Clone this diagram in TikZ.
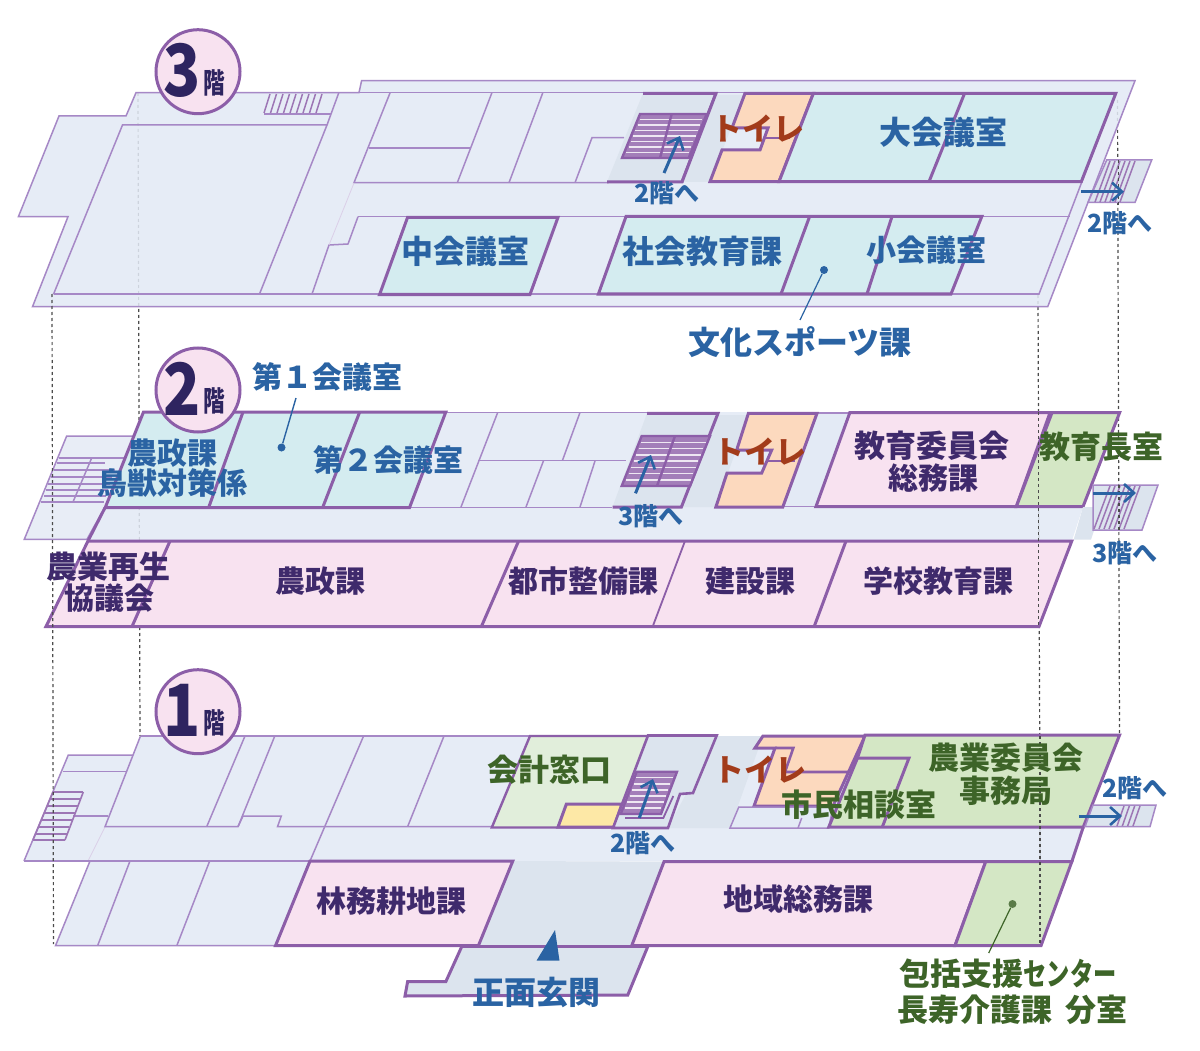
\documentclass[tikz,border=0pt]{standalone}
\usepackage{fontspec}
\usepackage{graphicx}
\usetikzlibrary{arrows.meta}
\newfontfamily\jp{Noto Sans CJK JP}
\newfontfamily\jpheavy{Noto Sans CJK JP Black}
\definecolor{floorc}{HTML}{E3EAF5}
\definecolor{linec}{HTML}{A688C6}
\definecolor{wallc}{HTML}{8C5EA8}
\definecolor{cyanc}{HTML}{D4ECF0}
\definecolor{pinkc}{HTML}{F8E2F0}
\definecolor{greenc}{HTML}{D4E7C5}
\definecolor{paleg}{HTML}{E1EEDB}
\definecolor{peachc}{HTML}{FCD9BE}
\definecolor{hallc}{HTML}{DCE4EE}
\definecolor{yellowc}{HTML}{FDE8A6}
\definecolor{bluet}{HTML}{2A63A3}
\definecolor{purplet}{HTML}{3F2A6C}
\definecolor{greent}{HTML}{3D6428}
\definecolor{redt}{HTML}{A23B1A}
\definecolor{navyt}{HTML}{2E2460}
\tikzset{
 floorp/.style={fill=floorc,draw=linec,line width=1.5pt,line join=miter},
 thinl/.style={draw=linec,line width=1.5pt},
 room/.style={draw=wallc,line width=3pt,line join=miter},
 wall/.style={draw=wallc,line width=3pt},
 dashl/.style={draw=black!70,line width=1.2pt,dash pattern=on 3pt off 3pt},
 lbl/.style={inner sep=0pt,align=center},
 arrowb/.style={draw=bluet,line width=3pt,-{Straight Barb[length=10pt,width=18pt,line width=2.6pt]}},
 badge/.style={circle,draw=wallc,line width=3pt,fill=pinkc,minimum size=84pt,inner sep=0pt},
}
\newcommand\fz[1]{\jp\bfseries\fontsize{#1}{#1}\selectfont}
\newcommand\fh[1]{\jpheavy\fontsize{#1}{#1}\selectfont}
% name, x, y, size, colour, text
\newcommand\tlabel[6]{\node[lbl,text=#5,font=\fz{#4}] (#1) at (#2,#3) {#6};}
% purple striped stair: xTL xTR yT yB slant n
\newcommand\stairs[6]{%
 \fill[wallc!80!white] (#1,#3) -- (#2,#3) -- ({#2-#5},#4) -- ({#1-#5},#4) -- cycle;
 \foreach \ii in {1,...,#6}{%
  \pgfmathsetmacro\yy{#3+(#4-#3)*\ii/(#6+1)}
  \pgfmathsetmacro\xa{#1-#5*\ii/(#6+1)+2}
  \pgfmathsetmacro\xb{#2-#5*\ii/(#6+1)-2}
  \draw[white!85!wallc,line width=1.5pt] (\xa,\yy) -- (\xb,\yy);}%
 \draw[wall,line width=2.4pt] (#1,#3) -- (#2,#3) -- ({#2-#5},#4) -- ({#1-#5},#4) -- cycle;}
% slanted hatch
\newcommand\hatch[6]{%
 \foreach \ii in {0,...,#6}{%
  \pgfmathsetmacro\xa{#1+(#2-#1)*\ii/#6}
  \pgfmathsetmacro\xb{\xa-#5}
  \draw[draw=wallc!85!white,line width=1.5pt] (\xa,#3) -- (\xb,#4);}}
\newcommand\floorbadge[4]{%
 \node[badge] (#1) at (#2,#3) {};
 \node[inner sep=0pt,text=navyt,font=\fh{72}] (#1n) at (#2-16,#3-1) {\scalebox{.85}[1]{#4}};
 \node[inner sep=0pt,text=navyt,font=\fz{27}] (#1k) at (#2+16,#3+11) {\scalebox{.8}[1.05]{階}};}
\begin{document}
\begin{tikzpicture}[x=1pt,y=-1pt]
\useasboundingbox (0,0) rectangle (1200,1051);
\fill[white] (0,0) rectangle (1200,1051);
%% vertical guides behind floors
\coordinate (gA3) at (52,294); \coordinate (gA1) at (53.5,944);
\coordinate (gB3) at (138,93); \coordinate (gB1) at (140,736);
\coordinate (gC3) at (1038,295); \coordinate (gC1) at (1040.5,945);
\coordinate (gD3) at (1117.5,100); \coordinate (gD1) at (1119.5,734);
\draw[dashl] (gB3) -- (gB1);
\draw[dashl] (gC3) -- (gC1);
\draw[dashl] (gD3) -- (gD1);

%%%%%%%% FLOOR 3
\begin{scope}[fill opacity=.86]
\path[floorp] (361.6,80.7) -- (1135,80.7) -- (1047.7,306.7) -- (32.5,306.7) -- (68,216.7) -- (18.4,216.7) -- (59,116) -- (126,116) -- (136,92.7) -- (359,92.7) -- cycle;
\end{scope}
\draw[thinl] (136,92.7) -- (1115.8,92.7);
\draw[thinl] (53.6,294) -- (1039,294) -- (1115.8,93);
\draw[thinl] (53.6,294) -- (122.5,125) -- (327,125) -- (259.5,294);
\draw[thinl] (327,125) -- (338.7,93);
\draw[thinl] (264,114) -- (331,114);
\hatch{270}{322}{94}{113}{6}{8}
\draw[thinl] (390,93) -- (354,182.7) -- (608.7,182.7);
\draw[thinl] (369,148) -- (470,148);
\draw[thinl] (491.8,93) -- (457.3,182.7);
\draw[thinl] (542.7,93) -- (509,182.7);
\draw[thinl] (575,182.7) -- (592,137.7) -- (624,137.7);
\draw[thinl] (358,216.7) -- (1070,216.7);
\draw[thinl] (358,216.7) -- (348,244) -- (329,245) -- (312,294);
\draw[draw=linec!40,line width=.8pt] (354,183) -- (329,245);
% stair 3
\path[room,fill=hallc] (643,93.3) -- (716,93.3) -- (682,182) -- (607,182);
\stairs{640}{706.7}{114}{158}{18}{7}
\draw[wall,line width=2.4pt] (671.7,114) -- (660,158);
\fill[hallc] (716,95) -- (744,95) -- (710,182) -- (682,182) -- cycle;
\draw[room] (716,93.3) -- (682,182);
% toilet 3
\path[room,fill=peachc] (745,93.3) -- (813.4,93.3) -- (779,181.7) -- (710,181.7) -- (722,150) -- (760,150) -- (768,128) -- (732,128) -- cycle;
\draw[wall,line width=2.4pt] (765,138) -- (790,138);
% large hall
\path[room,fill=cyanc] (813.4,93.3) -- (1115.8,93.3) -- (1081.3,181.7) -- (779,181.7) -- cycle;
\draw[wall] (964.6,93.3) -- (929,181.7);
% right stair
\path[thinl,fill=hallc] (1106.7,160) -- (1151.7,160) -- (1135,202.5) -- (1088,202.5) -- cycle;
\hatch{1110}{1135}{161}{202}{15}{5}
% lower rooms
\path[room,fill=cyanc] (407.6,217.3) -- (558,217.3) -- (530,294.5) -- (379.6,294.5) -- cycle;
\path[room,fill=cyanc] (626,216.5) -- (981.8,216.5) -- (951,294) -- (598.4,294) -- cycle;
\draw[wall] (809.6,216.5) -- (781,294);
\draw[wall] (892,216.5) -- (867,294);

%%%%%%%% FLOOR 2
\begin{scope}[fill opacity=.82]
\path[floorp] (66.7,436) -- (140,436) -- (105,507) -- (87,539.3) -- (24.3,539.3) -- cycle;
\end{scope}
\foreach \yy/\xl/\xr in {458/59/124,463/57/105,470/54/115,477/51/112,484/48/110,490/46/108,496/44/106,502/41/104}{\draw[thinl] (\xl,\yy) -- (\xr,\yy);}
\draw[thinl] (91.7,458) -- (73,502);
\begin{scope}[fill opacity=.86]
\path[floorp,draw=none] (143.5,412) -- (1119.6,412) -- (1083,507) -- (1071.8,541) -- (88,541) -- (105,507) -- cycle;
\end{scope}
\draw[thinl] (445,412.7) -- (650,412.7);
\draw[thinl] (497.5,413) -- (461,507);
\draw[thinl] (478,460.7) -- (626,460.7);
\draw[thinl] (579.8,413) -- (562.6,460);
\draw[thinl] (543.4,461) -- (526,507);
\draw[thinl] (595,461) -- (580,507);
\draw[thinl] (409,507.3) -- (612,507.3);
\draw[wall] (105,507.7) -- (88,541);
% stair 2
\fill[hallc] (716,415) -- (748.4,415) -- (716,507) -- (681.4,507) -- cycle;
\path[room,fill=hallc] (647,413.3) -- (718,413.3) -- (681.4,507) -- (612.5,507);
\stairs{641.7}{710}{436}{486}{20}{7}
\draw[wall,line width=2.4pt] (675,436) -- (657,486);
% toilet 2
\fill[floorc] (817,414) -- (849.8,414) -- (816,506) -- (782.8,506) -- cycle;
\draw[thinl] (817,413) -- (849.8,413);
\draw[thinl] (782.8,506.7) -- (816,506.7);
\path[room,fill=peachc] (748.4,413.3) -- (817,413.3) -- (782.8,507) -- (715.9,507) -- (727,473) -- (761.7,473) -- (771.7,450) -- (736.7,450) -- cycle;
\draw[wall,line width=2.4pt] (768,461) -- (795,461);
% rooms upper
\path[room,fill=pinkc] (849.8,412.7) -- (1050,412.7) -- (1016.3,506.5) -- (816,506.5) -- cycle;
\path[room,fill=greenc] (1052,412.7) -- (1119.6,412.7) -- (1083,506.7) -- (1016.3,506.7) -- cycle;
\path[room,fill=cyanc] (143.5,412) -- (445.8,412) -- (409.5,507.7) -- (105.2,507.7) -- cycle;
\draw[wall] (243,412) -- (208.6,507.7);
\draw[wall] (359.7,412) -- (322.6,507.7);
% right stair 2
\path[fill=hallc] (1083,507) -- (1102,507) -- (1091,539.5) -- (1073.7,539.5) -- cycle;
\path[thinl,fill=hallc] (1093,485) -- (1158,485) -- (1142,530) -- (1093,530) -- cycle;
\hatch{1110}{1140}{486}{529}{16}{6}
% lower band
\path[room,fill=pinkc] (88,541) -- (1071.8,541) -- (1039,626.5) -- (46,626.5) -- cycle;
\draw[wall] (170,541) -- (132,626.5);
\draw[wall] (518.6,541) -- (481.4,626.5);
\draw[wall,line width=1.8pt] (685,541) -- (652.7,626.5);
\draw[wall] (846,541) -- (814.2,626.5);

%%%%%%%% FLOOR 1
\begin{scope}[fill opacity=.86]
\path[fill=floorc] (68.3,755) -- (133,755) -- (140.5,736) -- (1119.6,736) -- (1083.3,827) -- (1071.8,861.7) -- (24,861) -- cycle;
\path[floorp] (90,861) -- (310,861) -- (275.5,945.7) -- (55.5,945.7) -- cycle;
\end{scope}
\draw[thinl] (24,861) -- (68.3,755) -- (133,755);
\draw[thinl] (63,771.7) -- (126.7,771.7);
\draw[thinl] (73,816) -- (108,816);
\draw[draw=linec!40,line width=.8pt] (105,827) -- (88,861);
\foreach \yy/\xl/\xr in {792/53/83.3,799/50.2/80.5,806/47.4/77.7,813/44.6/74.9,820/41.8/72.1,827/39/69.3,834/36.2/66.5,840/33/65}{\draw[wall,line width=1.6pt,draw=wallc!85!white] (\xl,\yy) -- (\xr,\yy);}
\draw[wall,line width=1.6pt,draw=wallc!85!white] (53,792) -- (33,840);
\draw[wall,line width=1.6pt,draw=wallc!85!white] (83.3,792) -- (65,840);
\draw[thinl] (140.5,736) -- (530,736);
\draw[thinl] (140.5,736) -- (105,826.7) -- (238,826.7) -- (243,816) -- (281.3,816) -- (277.5,826.7) -- (492,826.7);
\draw[thinl] (245,736) -- (206.7,826.7);
\draw[thinl] (274.8,736) -- (238,826.7);
\draw[thinl] (363.6,736) -- (310,861);
\draw[thinl] (444,736) -- (407.6,826.7);
\draw[thinl] (24,861) -- (310,861);
\draw[thinl] (130,861) -- (97.6,945.7);
\draw[thinl] (209.7,861) -- (176.8,945.7);
% hall + entrance
\path[room,fill=hallc] (462,946) -- (445.8,981.7) -- (407.6,981.7) -- (405,996) -- (627.8,995) -- (648,946);
\fill[hallc] (512.8,861) -- (664,861.7) -- (631.7,946) -- (478.4,946) -- cycle;
\draw[wall] (462,946) -- (648,946);
\fill[bluet] (555,930) -- (536.5,960.7) -- (559.5,960.7) -- cycle;
\path[room,fill=pinkc] (310,861) -- (512.8,861) -- (478.4,945.7) -- (275.5,945.7) -- cycle;
\path[room,fill=pinkc] (664,861.7) -- (985.7,861.7) -- (955,945.7) -- (631.7,945.7) -- cycle;
\path[room,fill=greenc] (985.7,861.7) -- (1071.8,861.7) -- (1041,945.7) -- (955,945.7) -- cycle;
% accounting
\path[room,fill=paleg,line width=2.4pt] (530,736) -- (649,736) -- (614,827.5) -- (491.8,827.5) -- cycle;
\path[room,fill=yellowc] (566.4,804) -- (622,804) -- (614,827) -- (558,827) -- cycle;
% corridor grey and stair 1
\fill[hallc] (716.7,736) -- (763,736) -- (730,828) -- (668,828) -- cycle;
\path[room,fill=hallc,line width=2.6pt] (648,735.5) -- (716.7,735.5) -- (693,793) -- (680,794) -- (668,828) -- (613,828) -- cycle;
\draw[wall,line width=1.8pt] (673.3,796) -- (663.3,818) -- (625,818);
\stairs{636.7}{677}{771.7}{814}{16}{6}
% toilet 1
\path[room,fill=peachc] (763,736) -- (865,736) -- (833,806) -- (754,806) -- (775,748) -- (755,748) -- cycle;
\draw[wall,line width=2.6pt] (775,748) -- (793.3,748) -- (785,772) -- (853,772);
% small rooms
\path[thinl,fill=floorc] (738.8,807) -- (833,807) -- (828.8,828) -- (730,828) -- cycle;
\draw[thinl] (798,828) -- (801.7,818);
% agriculture committee
\path[room,fill=greenc] (865,735) -- (1119.6,735) -- (1083.3,827) -- (828.8,827) -- (857.5,758) -- cycle;
\draw[wall] (857.5,758) -- (909,758) -- (882.3,827);
\draw[wall] (1083.3,827) -- (1071.8,861.7);
% right stair 1
\path[thinl,fill=hallc] (1093,805) -- (1156,805) -- (1150,826.7) -- (1085,826.7) -- cycle;
\hatch{1124}{1140}{806}{826}{7}{3}

%% guides seen over the floors
\draw[dashl] (gA3) -- (gA1);
\draw[dashl] (1038.7,412) -- (1038.7,626);
\draw[dashl] (1040,736) -- (1040,945);
\draw[dashl] (1118.5,160) -- (1118.5,206);
\draw[dashl] (1119,485) -- (1119,530);

%%%% ARROWS
\coordinate (a3s) at (664,173); \coordinate (a3e) at (680,136);
\coordinate (a3rs) at (1081,191.7); \coordinate (a3re) at (1124,191.7);
\coordinate (a2s) at (635.5,493.3); \coordinate (a2e) at (651,455);
\coordinate (a2rs) at (1093,493); \coordinate (a2re) at (1136,493);
\coordinate (a1s) at (639.3,818); \coordinate (a1e) at (653,779);
\coordinate (a1rs) at (1079.4,816); \coordinate (a1re) at (1122,816);
\foreach \s/\e in {a3s/a3e,a3rs/a3re,a2s/a2e,a2rs/a2re,a1s/a1e,a1rs/a1re}{\draw[arrowb] (\s) -- (\e);}

%%%% BADGES
\floorbadge{b3}{198}{71.7}{3}
\floorbadge{b2}{198}{390}{2}
\floorbadge{b1}{198}{711.7}{1}

%%%% LABELS
\tlabel{l01}{465}{251}{32}{bluet}{中会議室}
\tlabel{l02}{943}{132}{32}{bluet}{大会議室}
\tlabel{l03}{702}{251}{32}{bluet}{社会教育課}
\tlabel{l04}{926}{250}{30}{bluet}{小会議室}
\tlabel{l05}{800}{342}{32}{bluet}{文化スポーツ課}
\tlabel{l06}{758}{129}{31}{redt}{トイレ}
\tlabel{l07}{667}{193}{25}{bluet}{2階へ}
\tlabel{l08}{1120}{223}{25}{bluet}{2階へ}
\tlabel{l09}{327}{377}{30}{bluet}{第１会議室}
\tlabel{l10}{388}{460}{30}{bluet}{第２会議室}
\tlabel{l11a}{172}{453}{30}{bluet}{農政課}
\tlabel{l11b}{172}{483}{30}{bluet}{鳥獣対策係}
\tlabel{l12a}{108}{567}{31}{purplet}{農業再生}
\tlabel{l12b}{109}{598}{30}{purplet}{協議会}
\tlabel{l13}{320}{581}{30}{purplet}{農政課}
\tlabel{l14}{583}{581}{30}{purplet}{都市整備課}
\tlabel{l15}{750}{581}{30}{purplet}{建設課}
\tlabel{l16}{938}{581}{30}{purplet}{学校教育課}
\tlabel{l17a}{932}{446}{31}{purplet}{教育委員会}
\tlabel{l17b}{933}{478}{30}{purplet}{総務課}
\tlabel{l18}{1101}{447}{31}{greent}{教育長室}
\tlabel{l19}{760}{452}{31}{redt}{トイレ}
\tlabel{l20}{651}{516}{25}{bluet}{3階へ}
\tlabel{l21}{1125}{553}{25}{bluet}{3階へ}
\tlabel{l22}{549}{770}{31}{greent}{会計窓口}
\tlabel{l23}{760}{770}{31}{redt}{トイレ}
\tlabel{l24}{859}{805}{31}{greent}{市民相談室}
\tlabel{l25a}{1006}{758}{31}{greent}{農業委員会}
\tlabel{l25b}{1006}{791}{31}{greent}{事務局}
\tlabel{l26}{643}{843}{25}{bluet}{2階へ}
\tlabel{l27}{1135}{788}{25}{bluet}{2階へ}
\tlabel{l28}{391}{901}{30}{purplet}{林務耕地課}
\tlabel{l29}{798}{899}{30}{purplet}{地域総務課}
\tlabel{l30}{536}{992}{32}{bluet}{正面玄関}
\tlabel{l31a}{1008}{974}{31}{greent}{包括支援\scalebox{.75}[1]{センター}}
\tlabel{l31b}{1012.5}{1010}{31}{greent}{長寿介護課\hspace{.45em}分室}

%%%% LEADERS
\node[circle,fill=bluet,inner sep=0pt,minimum size=8pt] (d1) at (824,270) {};
\coordinate (d1e) at (800,320);
\draw[bluet,line width=1.2pt] (d1) -- (d1e);
\node[circle,fill=bluet,inner sep=0pt,minimum size=8pt] (d2) at (281.5,447.5) {};
\coordinate (d2e) at (296,398);
\draw[bluet,line width=1.4pt] (d2) -- (d2e);
\node[circle,fill=greent!85!white,inner sep=0pt,minimum size=8pt] (d3) at (1012.5,904) {};
\coordinate (d3e) at (988.7,953);
\draw[greent,line width=1.2pt] (d3) -- (d3e);
\end{tikzpicture}
\end{document}
